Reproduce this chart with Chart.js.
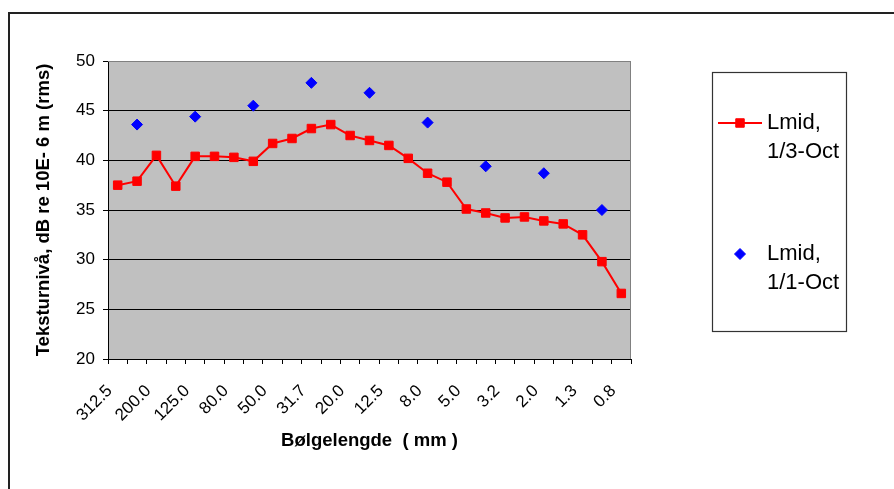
<!DOCTYPE html>
<html>
<head>
<meta charset="utf-8">
<script src="https://cdn.jsdelivr.net/npm/chart.js@4/dist/chart.umd.min.js"></script>
<style>
  body { margin: 0; background: #fff; }
  #chart { display: block; }
</style>
</head>
<body>
<canvas id="chart" width="894" height="489"></canvas>
<script>
// wavelength bands, 1/3 octave (mm)
const wavelengths = ['312.5', '250.0', '200.0', '160.0', '125.0', '100.0', '80.0', '63.0', '50.0', '40.0',
  '31.7', '25.0', '20.0', '16.0', '12.5', '10.0', '8.0', '6.3', '5.0', '4.0',
  '3.2', '2.5', '2.0', '1.6', '1.3', '1.0', '0.8']

const thirdOctave = [37.5, 37.9, 40.5, 37.4, 40.4, 40.4, 40.3, 39.9, 41.7, 42.2,
  43.2, 43.6, 42.5, 42.0, 41.5, 40.2, 38.7, 37.8, 35.1, 34.7,
  34.2, 34.3, 33.9, 33.6, 32.5, 29.8, 26.6]

// full octave values sit on every third band
const fullOctave = [null, 43.6, null, null, 44.4, null, null, 45.5, null, null,
  47.8, null, null, 46.8, null, null, 43.8, null, null, 39.4,
  null, null, 38.7, null, null, 35.0, null]

const yTicks = [20, 25, 30, 35, 40, 45, 50]

const seriesNames = [['Lmid,', '1/3-Oct'], ['Lmid,', '1/1-Oct']]

const FONT = "'Liberation Sans', Arial, sans-serif"

const frame = {
  id: 'frame',
  beforeDraw(chart) {
    const ctx = chart.ctx
    const a = chart.chartArea
    ctx.save()
    ctx.fillStyle = '#C0C0C0'
    ctx.fillRect(a.left, a.top, a.right - a.left, a.bottom - a.top)
    ctx.strokeStyle = '#222'
    ctx.lineWidth = 2
    ctx.beginPath()
    ctx.moveTo(9, 489)
    ctx.lineTo(9, 13)
    ctx.lineTo(894, 13)
    ctx.stroke()
    ctx.restore()
  },
  afterDatasetsDraw(chart) {
    const ctx = chart.ctx
    const a = chart.chartArea
    ctx.save()
    ctx.strokeStyle = '#808080'
    ctx.lineWidth = 1
    ctx.beginPath()
    ctx.moveTo(a.left, a.top + 0.5)
    ctx.lineTo(a.right - 0.5, a.top + 0.5)
    ctx.lineTo(a.right - 0.5, a.bottom)
    ctx.stroke()
    ctx.restore()
  }
}

// tall legend box like the original
const sideLegend = {
  id: 'sideLegend',
  afterDraw(chart) {
    const ctx = chart.ctx
    ctx.save()
    ctx.strokeStyle = '#333'
    ctx.lineWidth = 1.2
    ctx.strokeRect(712.5, 72.5, 134, 259)
    ctx.font = '22px ' + FONT
    ctx.textBaseline = 'middle'
    const rows = [123, 254]
    chart.data.datasets.forEach((ds, i) => {
      const y = rows[i]
      if (ds.showLine !== false) {
        ctx.strokeStyle = ds.borderColor
        ctx.lineWidth = 2
        ctx.beginPath()
        ctx.moveTo(718, y)
        ctx.lineTo(762, y)
        ctx.stroke()
      }
      ctx.fillStyle = ds.pointBackgroundColor
      ctx.strokeStyle = ds.pointBorderColor
      ctx.lineWidth = 1
      Chart.helpers.drawPoint(ctx, {
        pointStyle: ds.pointStyle, radius: ds.pointRadius, borderWidth: 1
      }, 740, y)
      ctx.fillStyle = '#000'
      seriesNames[i].forEach((t, j) => ctx.fillText(t, 767, y + j * 29))
    })
    ctx.restore()
  }
}

new Chart(document.getElementById('chart'), {
  type: 'line',
  data: {
    labels: wavelengths,
    datasets: [{
      label: 'Lmid, 1/3-Oct',
      data: thirdOctave,
      borderColor: '#FF0000',
      backgroundColor: '#FF0000',
      borderWidth: 2,
      pointStyle: 'rect',
      pointRadius: 6,
      pointBorderWidth: 1,
      pointBackgroundColor: '#FF0000',
      pointBorderColor: '#FF0000',
      tension: 0
    }, {
      label: 'Lmid, 1/1-Oct',
      data: fullOctave,
      showLine: false,
      borderColor: '#0000FF',
      backgroundColor: '#0000FF',
      pointStyle: 'rectRot',
      pointRadius: 5.5,
      pointBorderWidth: 1,
      pointBackgroundColor: '#0000FF',
      pointBorderColor: '#0000FF'
    }]
  },
  options: {
    responsive: false,
    animation: false,
    layout: { padding: { left: 0, top: 61, right: 263, bottom: 0 } },
    plugins: {
      legend: { display: false },
      tooltip: { enabled: false }
    },
    scales: {
      x: {
        offset: true,
        grid: { offset: true, drawOnChartArea: false, tickLength: 5, color: '#000' },
        border: { color: '#000', width: 1 },
        ticks: {
          autoSkip: false,
          minRotation: 45,
          maxRotation: 45,
          labelOffset: -8,
          padding: 17,
          color: '#000',
          font: { family: FONT, size: 17 },
          callback: function (v, i) { return i % 2 === 0 ? wavelengths[i] : '' }
        },
        title: {
          display: true,
          text: 'Bølgelengde  ( mm )',
          color: '#000',
          font: { family: FONT, size: 18.5, weight: 'bold' },
          padding: { top: 0, bottom: 37 }
        },
        afterFit: s => { s.height = 130 }
      },
      y: {
        min: 20,
        max: 50,
        afterBuildTicks: s => { s.ticks = yTicks.map(v => ({ value: v })) },
        grid: {
          tickLength: 5,
          color: c => c.tick && c.tick.value === 50 ? '#808080' : '#000',
          tickColor: '#000'
        },
        border: { color: '#000', width: 1 },
        ticks: {
          padding: 8,
          color: '#000',
          font: { family: FONT, size: 17 }
        },
        title: {
          display: true,
          text: 'Teksturnivå, dB re 10E- 6 m (rms)',
          color: '#000',
          font: { family: FONT, size: 18.5, weight: 'bold' },
          padding: { top: 33, bottom: 0 }
        },
        afterFit: s => { s.width = 108 }
      }
    }
  },
  plugins: [frame, sideLegend]
})
</script>
</body>
</html>
